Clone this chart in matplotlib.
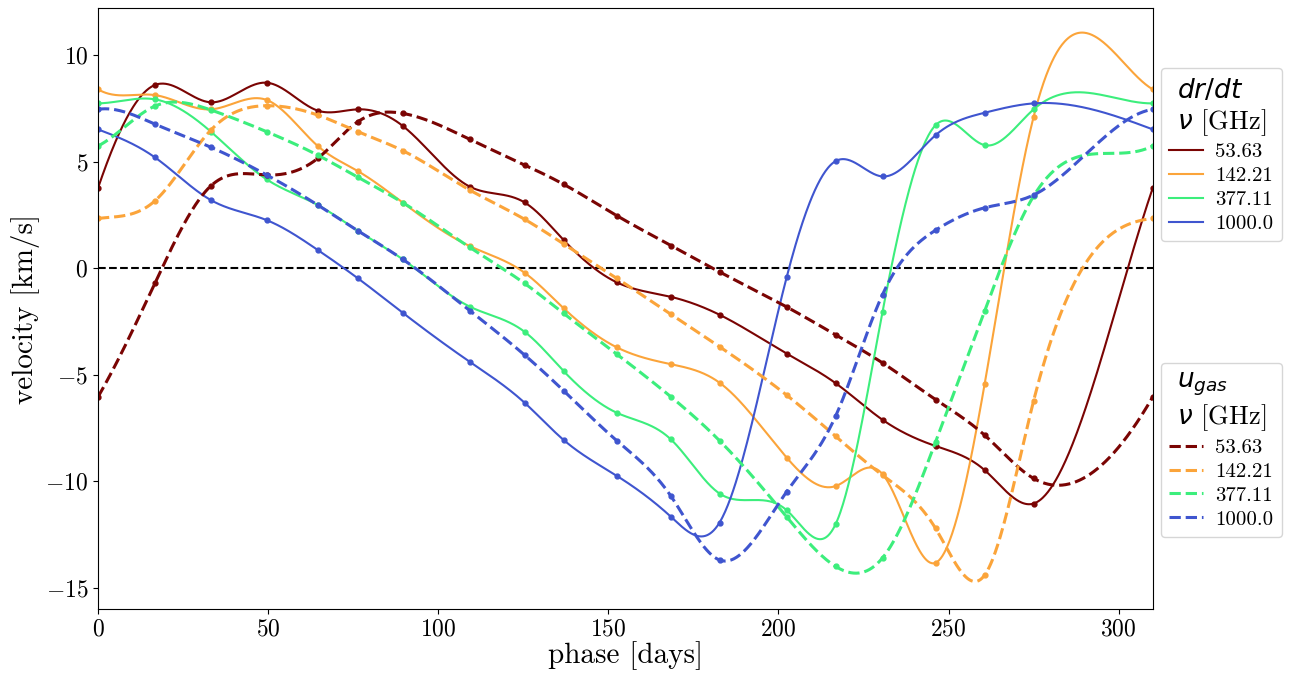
import matplotlib as mpl

mpl.use("Agg")
import matplotlib.pyplot as plt
import numpy as np

plt.rcParams["font.family"] = "serif"
plt.rcParams["font.serif"] = ["cmr10", "DejaVu Serif"]
plt.rcParams["axes.formatter.use_mathtext"] = True
plt.rcParams["mathtext.fontset"] = "dejavusans"

# phase of each snapshot (last point closes the cycle)
phase = [0, 16.7, 33.2, 49.6, 64.6, 76.4, 89.6, 109.3, 125.4, 136.9,
         152.5, 168.4, 182.7, 202.4, 216.8, 230.6, 246.2, 260.6, 275.0, 310]

freqs = ["53.63", "142.21", "377.11", "1000.0"]
colors = ["#7a0403", "#fba43a", "#3cee7c", "#3f55cf"]

# dr/dt [km/s]
drdt_53 = [3.75, 8.59, 7.78, 8.70, 7.39, 7.45, 6.67, 3.82, 3.08, 1.31,
           -0.67, -1.35, -2.19, -4.01, -5.40, -7.12, -8.35, -9.48, -11.05, 3.75]
drdt_142 = [8.39, 8.12, 7.45, 7.89, 5.73, 4.55, 3.07, 1.03, -0.22, -1.89,
            -3.72, -4.51, -5.38, -8.89, -10.23, -9.67, -13.83, -5.45, 7.10, 8.39]
drdt_377 = [7.73, 7.92, 6.40, 4.16, 2.96, 1.75, 0.41, -1.81, -2.99, -4.84,
            -6.79, -8.04, -10.58, -11.36, -12.02, -2.05, 6.71, 5.77, 7.45, 7.73]
drdt_1000 = [6.51, 5.20, 3.19, 2.25, 0.85, -0.48, -2.10, -4.40, -6.32, -8.07,
             -9.75, -11.67, -11.94, -0.44, 5.02, 4.30, 6.24, 7.29, 7.73, 6.51]

# u_gas [km/s]
ugas_53 = [-6.05, -0.72, 3.86, 4.37, 5.15, 6.87, 7.26, 6.04, 4.84, 3.93,
           2.46, 1.06, -0.18, -1.82, -3.13, -4.45, -6.17, -7.84, -9.87, -6.05]
ugas_142 = [2.33, 3.15, 6.48, 7.62, 7.18, 6.40, 5.51, 3.66, 2.29, 1.13,
            -0.48, -2.17, -3.69, -5.96, -7.89, -9.72, -12.22, -14.41, -6.23, 2.33]
ugas_377 = [5.73, 7.60, 7.42, 6.40, 5.30, 4.26, 3.07, 0.97, -0.72, -2.13,
            -4.04, -6.04, -8.10, -11.67, -14.00, -13.60, -8.15, -2.00, 3.38, 5.73]
ugas_1000 = [7.45, 6.76, 5.67, 4.37, 2.96, 1.75, 0.41, -2.00, -4.08, -5.76,
             -8.10, -10.70, -13.70, -10.50, -6.95, -1.24, 1.78, 2.83, 3.43, 7.45]

drdt = [drdt_53, drdt_142, drdt_377, drdt_1000]
ugas = [ugas_53, ugas_142, ugas_377, ugas_1000]


def periodic_spline(x, y, xs):
    """Periodic cubic spline through (x, y); y[-1] must equal y[0]."""
    x = np.asarray(x, float)
    y = np.asarray(y, float)
    n = len(x) - 1
    h = np.diff(x)
    A = np.zeros((n, n))
    b = np.zeros(n)
    for i in range(n):
        hl = h[i - 1]
        hr = h[i]
        A[i, (i - 1) % n] += hl
        A[i, i] += 2 * (hl + hr)
        A[i, (i + 1) % n] += hr
        b[i] = 6 * ((y[i + 1] - y[i]) / hr - (y[i] - y[(i - 1) % n]) / hl)
    M = np.linalg.solve(A, b)
    M = np.append(M, M[0])
    k = np.clip(np.searchsorted(x, xs) - 1, 0, n - 1)
    hk = h[k]
    a = x[k + 1] - xs
    c = xs - x[k]
    return (M[k] * a ** 3 / (6 * hk) + M[k + 1] * c ** 3 / (6 * hk)
            + (y[k] / hk - M[k] * hk / 6) * a + (y[k + 1] / hk - M[k + 1] * hk / 6) * c)


fig, ax = plt.subplots(figsize=(13.01, 6.77), dpi=100)
fig.subplots_adjust(left=0.0753, right=0.886, top=0.988, bottom=0.1004)

xs = np.linspace(phase[0], phase[-1], 1200)
solid_handles, dashed_handles = [], []
for vals, col, f in zip(drdt, colors, freqs):
    (ln,) = ax.plot(xs, periodic_spline(phase, vals, xs), color=col, lw=1.5, label=f)
    ax.plot(phase, vals, "o", color=col, ms=3.5)
    solid_handles.append(ln)
for vals, col, f in zip(ugas, colors, freqs):
    (ln,) = ax.plot(xs, periodic_spline(phase, vals, xs), color=col, lw=2.2, ls="--", label=f)
    ax.plot(phase, vals, "o", color=col, ms=3.5)
    dashed_handles.append(ln)

ax.axhline(0, color="k", ls="--", lw=1.5, zorder=0.5)

ax.set_xlim(0, 310)
ax.set_ylim(-16.0, 12.2)
ax.set_xticks([0, 50, 100, 150, 200, 250, 300])
ax.set_yticks([-15, -10, -5, 0, 5, 10])
ax.tick_params(labelsize=17)
ax.set_xlabel("phase [days]", fontsize=21, labelpad=0)
ax.set_ylabel("velocity [km/s]", fontsize=21, labelpad=4)

leg_kw = dict(loc="upper left", fontsize=15, title_fontsize=19, handlelength=1.6,
              handletextpad=0.6, labelspacing=0.25, borderaxespad=0.0, borderpad=0.4)
leg1 = ax.legend(handles=solid_handles, title="$dr/dt$\n$\\nu$ [GHz]",
                 bbox_to_anchor=(1.008, 0.90), **leg_kw)
ax.add_artist(leg1)
ax.legend(handles=dashed_handles, title="$u_{gas}$\n$\\nu$ [GHz]",
          bbox_to_anchor=(1.008, 0.41), **leg_kw)

fig.savefig("out.png", dpi=100)
